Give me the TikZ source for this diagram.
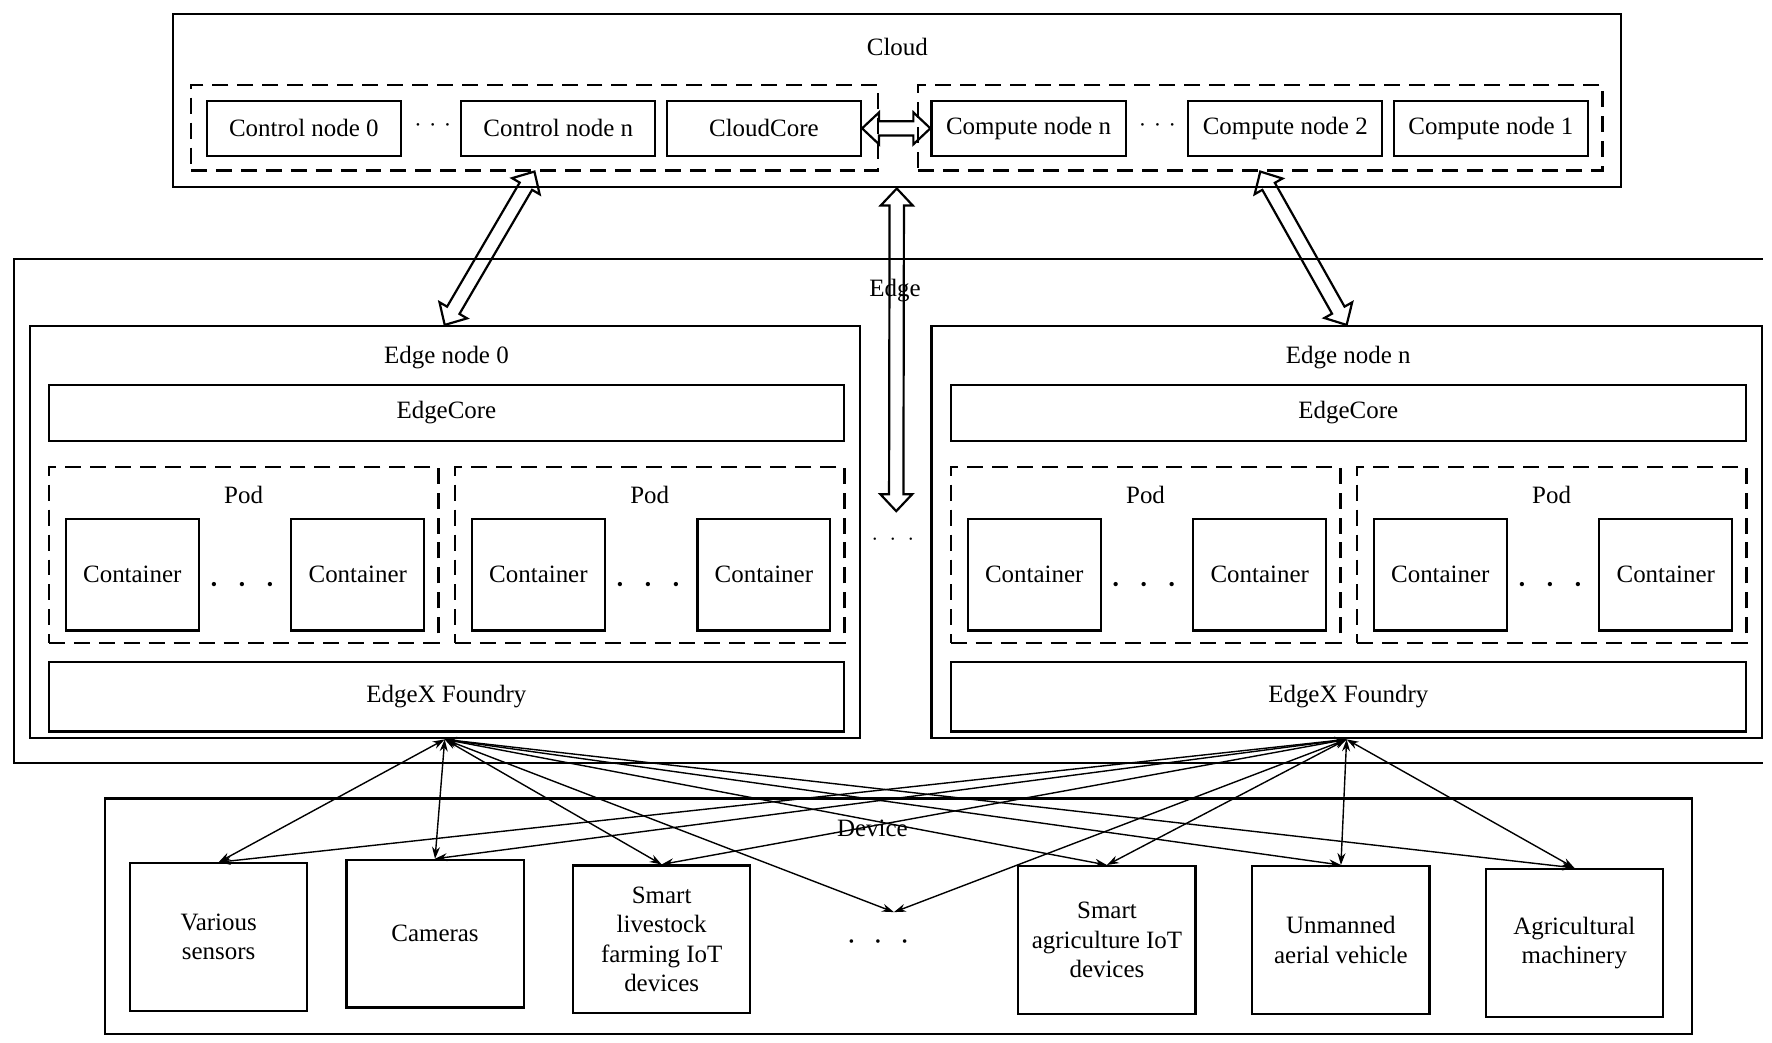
\documentclass[tikz,border=0pt]{standalone}
\usepackage{fontspec}
\setmainfont{Liberation Serif}
\usetikzlibrary{arrows.meta,calc}

\tikzset{
  box/.style={draw, line width=1.1pt, inner sep=0pt, align=center},
  group/.style={draw, line width=1.2pt, dash pattern=on 8pt off 4.5pt, inner sep=0pt},
  layer/.style={draw, line width=1.1pt, inner sep=0pt},
  fan/.style={line width=0.7pt, {Stealth[length=6pt,width=4pt]}-{Stealth[length=6pt,width=4pt]}},
}

% open double arrow between two points
\newcommand\hollowarrow[2]{%
  \coordinate (ha) at (#1);
  \coordinate (hb) at (#2);
  \coordinate (hc) at ($(ha)!8.5pt!(hb)$);
  \coordinate (hd) at ($(hb)!8.5pt!(ha)$);
  \draw[line width=1.1pt, line join=miter]
    (ha) -- ($(hc)!8pt!90:(hb)$) -- ($(hc)!3.6pt!90:(hb)$)
    -- ($(hd)!3.6pt!-90:(ha)$) -- ($(hd)!8pt!-90:(ha)$) -- (hb)
    -- ($(hd)!8pt!90:(ha)$) -- ($(hd)!3.6pt!90:(ha)$)
    -- ($(hc)!3.6pt!-90:(hb)$) -- ($(hc)!8pt!-90:(hb)$) -- cycle;
}
\newcommand\dotrow[2]{\fontsize{#1}{#1}\selectfont •\hspace{#2}•\hspace{#2}•}

\begin{document}
\begin{tikzpicture}[x=0.02cm, y=-0.02cm, font=\fontsize{12.5}{14.6}\selectfont]
\useasboundingbox (0,0) rectangle (1560,918);

% cloud
\node[layer, minimum width=25.5cm, minimum height=3.06cm] (cloud) at (789.5,88.5) {};
\node (cloudlbl) at (790,41) {Cloud};
\node[group, minimum width=12.1cm, minimum height=1.5cm] (ctrlgroup) at (470.5,112.5) {};
\node[group, minimum width=12.06cm, minimum height=1.5cm] (compgroup) at (1109.5,112.5) {};
\foreach \n/\x/\t in {ctrl0/267.5/Control node 0, ctrln/491.5/Control node n, cloudcore/672.5/CloudCore,
                      compn/905.5/Compute node n, comp2/1131.5/Compute node 2, comp1/1312.5/Compute node 1} {
  \node[box, minimum width=3.42cm, minimum height=0.96cm] (\n) at (\x,113) {\t};
}
\node (clouddots1) at (381,111) {\dotrow{5.5}{5.5pt}};
\node (clouddots2) at (1019,111) {\dotrow{5.5}{5.5pt}};

% edge
\draw[layer] (1552,228) -| (12,672) -- (1552,672);
\node (edgelbl) at (788,256) {Edge};
\foreach \e/\dx in {0/0, n/794} {
  \begin{scope}[xshift=\dx*0.02cm]
    \node[box, minimum width=14.62cm, minimum height=7.26cm] (edge\e) at (391.5,468.5) {};
    \node (edgelbl\e) at (393,315) {Edge node \e};
    \node[box, minimum width=14cm, minimum height=0.98cm] (core\e) at (393,363.5) {EdgeCore};
    \foreach \p/\px in {a/214.5, b/572} {
      \node[group, minimum width=6.86cm, minimum height=3.1cm] (pod\e\p) at (\px,488.5) {};
      \node (podlbl\e\p) at (\px,436) {Pod};
      \node[box, minimum width=2.34cm, minimum height=1.96cm] (cont\e\p1) at (\px-98,506) {Container};
      \node[box, minimum width=2.34cm, minimum height=1.96cm] (cont\e\p2) at (\px+100.5,506) {Container};
      \node (poddots\e\p) at (\px-1.5,516) {\dotrow{9}{10.9pt}};
    }
    \node[box, minimum width=14cm, minimum height=1.22cm] (edgex\e) at (393,613.5) {EdgeX Foundry};
  \end{scope}
}
\node (edgedots) at (786,476) {\dotrow{5}{7.3pt}};
\coordinate (vtip) at (789,450);

% cloud <-> edge
\hollowarrow{cloudcore.east}{compn.west}
\hollowarrow{cloud.south}{vtip}
\hollowarrow{ctrlgroup.south}{edge0.north}
\hollowarrow{compgroup.south}{edgen.north}

% device
\node[layer, minimum width=27.96cm, minimum height=4.14cm] (device) at (791,806.5) {};
\node (devlbl) at (768,729) {Device};
\foreach \n/\x/\y/\t in {sensors/192.5/825/Various\\sensors, cameras/383/822/Cameras,
                         livestock/582.5/827/Smart\\livestock\\farming IoT\\devices,
                         smartagri/974.5/827.5/Smart\\agriculture IoT\\devices,
                         uav/1180.5/827.5/Unmanned\\aerial vehicle, machinery/1386/830/Agricultural\\machinery} {
  \node[box, minimum width=3.12cm, minimum height=2.6cm] (\n) at (\x,\y) {\t};
}
\node (devdots) at (773,830) {\dotrow{7.5}{10.7pt}};
\coordinate (dotsend) at (787,803);

% edge <-> device
\foreach \e in {0,n} {
  \foreach \d in {sensors.north, cameras.north, livestock.north, dotsend, smartagri.north, uav.north, machinery.north} {
    \draw[fan] (edge\e.south) -- (\d);
  }
}
\end{tikzpicture}
\end{document}
